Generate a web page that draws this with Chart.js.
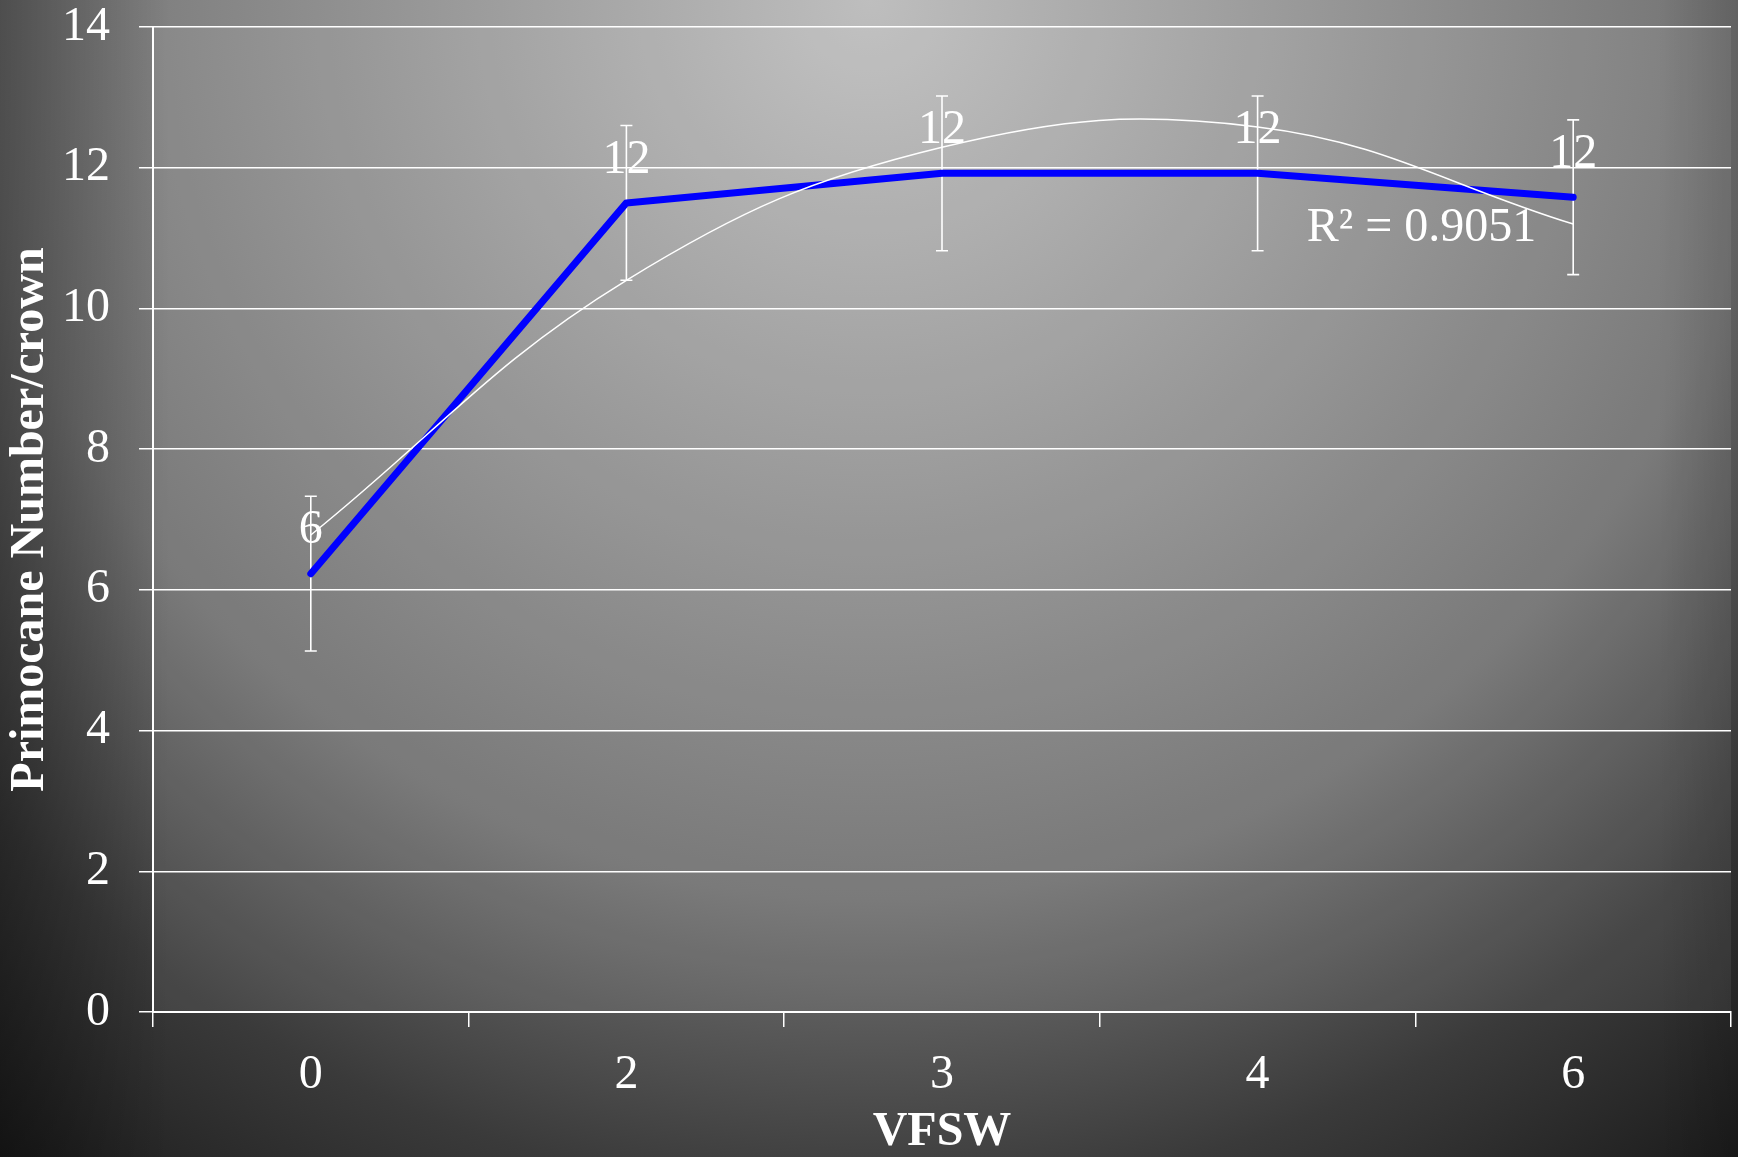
<!DOCTYPE html>
<html><head><meta charset="utf-8">
<script src="https://cdn.jsdelivr.net/npm/chart.js@4.4.1/dist/chart.umd.min.js"></script>
<style>html,body{margin:0;padding:0;background:#222;overflow:hidden}canvas{display:block}</style>
</head><body>
<canvas id="c" width="1738" height="1157"></canvas>
<script>
// ---- data ----
const categories = ['0', '2', '3', '4', '6'];
const primocaneMeans = [6.23, 11.50, 11.92, 11.92, 11.58];
const errorMargins = [1.10, 1.10, 1.10, 1.10, 1.10];
const trendValues = [6.78, 10.40, 12.29, 12.58, 11.20];
const pointLabels = ['6', '12', '12', '12', '12'];
const rSquaredText = 'R\u00b2 = 0.9051';
const yMin = 0, yMax = 14, yStep = 2;
const xTitle = 'VFSW';
const yTitle = 'Primocane Number/crown';

const FONT = '"Liberation Serif", "Times New Roman", serif';

const bgPlugin = {
  id: 'bg',
  beforeDraw(chart) {
    const {ctx, width, height, chartArea: a} = chart;
    ctx.save();
    const g = ctx.createRadialGradient(870, 0, 0, 870, 0, 1500);
    g.addColorStop(0, '#bebebe');
    g.addColorStop(0.6, '#707070');
    g.addColorStop(0.8, '#3a3a3a');
    g.addColorStop(1, '#151515');
    ctx.fillStyle = g;
    ctx.fillRect(0, 0, width, height);
    const l = ctx.createLinearGradient(0, 0, 170, 0);
    l.addColorStop(0, 'rgba(0,0,0,0.32)');
    l.addColorStop(1, 'rgba(0,0,0,0)');
    ctx.fillStyle = l;
    ctx.fillRect(0, 0, 170, height);
    const r = ctx.createLinearGradient(width, 0, width - 80, 0);
    r.addColorStop(0, 'rgba(0,0,0,0.15)');
    r.addColorStop(1, 'rgba(0,0,0,0)');
    ctx.fillStyle = r;
    ctx.fillRect(width - 80, 0, 80, height);
    ctx.fillStyle = 'rgba(255,255,255,0.07)';
    ctx.fillRect(a.left, a.top, a.right - a.left, a.bottom - a.top);
    ctx.restore();
  }
};

const annotPlugin = {
  id: 'annot',
  beforeDatasetsDraw(chart) {
    const {ctx} = chart;
    const ys = chart.scales.y;
    const meta = chart.getDatasetMeta(0);
    ctx.save();
    ctx.strokeStyle = '#ffffff';
    ctx.lineWidth = 1.6;
    meta.data.forEach((pt, i) => {
      const x = pt.x;
      const yt = ys.getPixelForValue(primocaneMeans[i] + errorMargins[i]);
      const yb = ys.getPixelForValue(primocaneMeans[i] - errorMargins[i]);
      ctx.beginPath();
      ctx.moveTo(x, yt); ctx.lineTo(x, yb);
      ctx.moveTo(x - 6, yt); ctx.lineTo(x + 6, yt);
      ctx.moveTo(x - 6, yb); ctx.lineTo(x + 6, yb);
      ctx.stroke();
    });
    ctx.restore();
  },
  afterDatasetsDraw(chart) {
    const {ctx} = chart;
    const meta = chart.getDatasetMeta(0);
    const tmeta = chart.getDatasetMeta(1);
    ctx.save();
    ctx.fillStyle = '#ffffff';
    ctx.font = '48px ' + FONT;
    ctx.textAlign = 'center';
    ctx.textBaseline = 'middle';
    meta.data.forEach((pt, i) => {
      ctx.fillText(pointLabels[i], pt.x, pt.y - 43);
    });
    const last = tmeta.data[tmeta.data.length - 1];
    ctx.textAlign = 'right';
    ctx.fillText(rSquaredText, last.x - 37, last.y + 4);
    ctx.restore();
  }
};

new Chart(document.getElementById('c'), {
  type: 'line',
  data: {
    labels: categories,
    datasets: [
      {
        label: 'Primocane',
        data: primocaneMeans,
        borderColor: '#0000ff',
        borderWidth: 7,
        borderCapStyle: 'round',
        borderJoinStyle: 'round',
        pointRadius: 0,
        pointHoverRadius: 0,
        tension: 0,
        fill: false,
        order: 1
      },
      {
        label: 'Trend',
        data: trendValues,
        borderColor: '#ffffff',
        borderWidth: 1.5,
        pointRadius: 0,
        pointHoverRadius: 0,
        tension: 0.4,
        fill: false,
        order: 0
      }
    ]
  },
  options: {
    responsive: false,
    devicePixelRatio: 1,
    animation: false,
    events: [],
    layout: {padding: {top: 27, right: 7, left: 0, bottom: 0}},
    plugins: {legend: {display: false}, tooltip: {enabled: false}},
    scales: {
      x: {
        type: 'category',
        offset: true,
        grid: {
          offset: true,
          drawOnChartArea: false,
          drawTicks: true,
          tickLength: 15,
          color: '#ffffff',
          lineWidth: 1.5
        },
        border: {display: true, color: '#ffffff', width: 2},
        ticks: {color: '#ffffff', font: {family: FONT, size: 48}, padding: 20, maxRotation: 0},
        title: {display: true, text: xTitle, color: '#ffffff',
          font: {family: FONT, size: 48, weight: 'bold', lineHeight: 1}, padding: {top: 0, bottom: 0}},
        afterFit(s) { s.height = 145; s.paddingLeft = 0; s.paddingRight = 0; }
      },
      y: {
        min: yMin, max: yMax,
        grid: {color: '#ffffff', lineWidth: 1.5, tickLength: 14, drawTicks: true},
        border: {display: true, color: '#ffffff', width: 2},
        ticks: {stepSize: yStep, color: '#ffffff', font: {family: FONT, size: 48}, padding: 29},
        title: {display: true, text: yTitle, color: '#ffffff',
          font: {family: FONT, size: 48, weight: 'bold', lineHeight: 1}, padding: {top: 7, bottom: 0}},
        afterFit(s) { s.width = 153; s.paddingTop = 0; s.paddingBottom = 0; }
      }
    }
  },
  plugins: [bgPlugin, annotPlugin]
});
</script>
</body></html>
